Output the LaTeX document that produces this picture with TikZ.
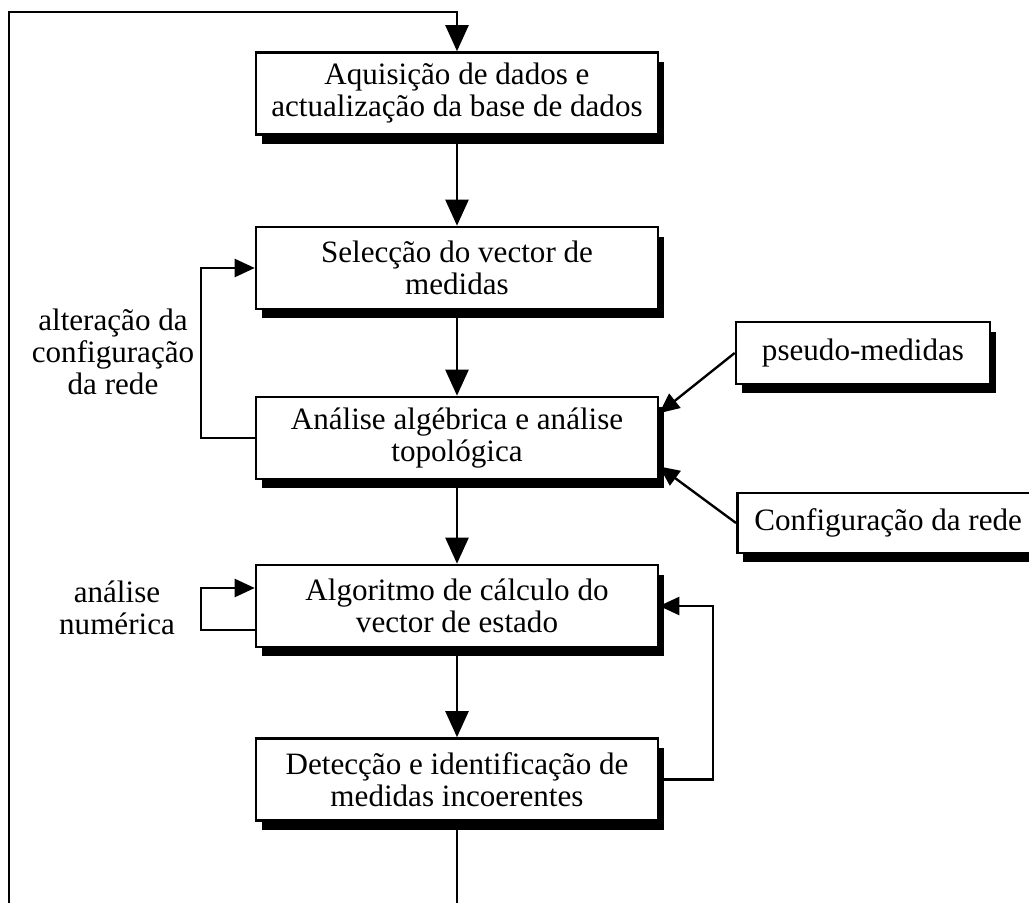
\documentclass[tikz,border=0pt]{standalone}
\usepackage{fontspec}
\setmainfont{Liberation Serif}
\usetikzlibrary{positioning,calc,shadows,arrows.meta}

\tikzset{
  box/.style={draw, line width=1.5pt, fill=white, minimum width=8.04cm, minimum height=1.64cm,
    align=center, inner sep=2pt,
    drop shadow={shadow xshift=0.12cm, shadow yshift=-0.19cm, fill=black, opacity=1}},
  lbl/.style={align=center, inner sep=0pt},
  flow/.style={line width=1.35pt, -{Triangle[length=0.52cm,width=0.46cm]}},
  side/.style={line width=1.35pt, -{Triangle[length=0.4cm,width=0.36cm]}}
}

\begin{document}
\begin{tikzpicture}[x=0.02cm, y=-0.02cm, font=\fontsize{17.7}{18.2}\selectfont]
    \useasboundingbox (0,0) rectangle (1029,903);
    \clip (0,0) rectangle (1029,903);

    % Main chain
    \node[box] (aquis) at (457,93.5) {Aquisição de dados e\\actualização da base de dados};
    \node[box] (selec) at (457,268) {Selecção do vector de\\medidas};
    \node[box] (anal) at (457,438) {Análise algébrica e análise\\topológica};
    \node[box] (algo) at (457,606) {Algoritmo de cálculo do\\vector de estado};
    \node[box] (detec) at (457,779.5) {Detecção e identificação de\\medidas incoerentes};

    % Inputs
    \node[box, minimum width=5.08cm, minimum height=1.24cm] (pseudo) at (863,353) {pseudo-medidas};
    \node[box, minimum width=0pt, minimum height=1.2cm, inner xsep=0.34cm, anchor=west] (config) at (736,523) {Configuração da rede};

    % Labels
    \node[lbl] (alter) at (113,352) {alteração da\\configuração\\da rede};
    \node[lbl] (numer) at (117,608) {análise\\numérica};

    % Flow
    \draw[flow] (aquis.south) -- (selec.north);
    \draw[flow] (selec.south) -- (anal.north);
    \draw[flow] (anal.south) -- (algo.north);
    \draw[flow] (algo.south) -- (detec.north);
    \draw[flow] (detec.south) -- (457,960) -| (9,12) -| (aquis.north);

    % Loops and inputs
    \draw[side] (anal.west) -- (201,438) |- (selec.west);
    \draw[side] ($(algo.west)+(0,24)$) -- (201,630) |- ($(algo.west)+(0,-18)$);
    \draw[side] (detec.east) -- (713,779.5) |- (algo.east);
    \draw[side] (pseudo.west) -- (anal.7);
    \draw[side] (config.west) -- (anal.-8);
\end{tikzpicture}
\end{document}
